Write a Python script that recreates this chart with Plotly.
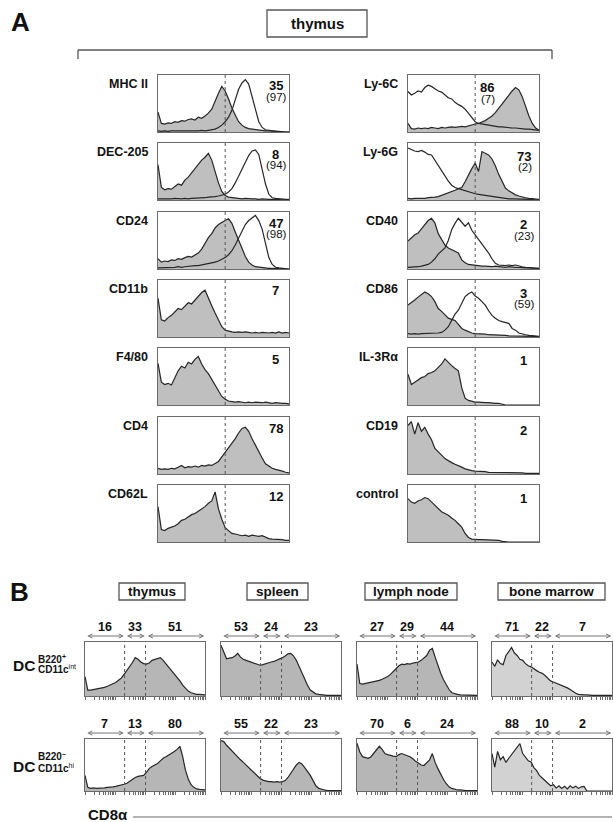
import math
import plotly.graph_objects as go

W, H = 613, 822
FONT = "Liberation Sans, Arial, Helvetica, sans-serif"
TXT = "#111111"
FRAME = "#6a6a6a"
LINE = "#262626"

# ---------------- Panel A (thymus) data: 40 channels per histogram ----------------
A_LEFT_MARKERS = ["MHC II", "DEC-205", "CD24", "CD11b", "F4/80", "CD4", "CD62L"]
A_LEFT_PCT = ["35", "8", "47", "7", "5", "78", "12"]
A_LEFT_PAREN = ["(97)", "(94)", "(98)", "", "", "", ""]
A_RIGHT_MARKERS = ["Ly-6C", "Ly-6G", "CD40", "CD86", "IL-3Rα", "CD19", "control"]
A_RIGHT_PCT = ["86", "73", "2", "3", "1", "2", "1"]
A_RIGHT_PAREN = ["(7)", "(2)", "(23)", "(59)", "", "", ""]
A_GATE = 20

MHCII_FILLED = [35, 15, 14, 16, 15, 18, 17, 20, 19, 22, 23, 21, 26, 24, 28, 33, 40, 55, 68, 80,
                72, 58, 42, 30, 18, 12, 8, 6, 5, 4, 3, 3, 2, 2, 1, 1, 1, 0, 0, 0]
MHCII_OPEN = [2, 1, 2, 1, 2, 2, 1, 2, 2, 1, 2, 2, 2, 3, 2, 3, 4, 5, 8, 12,
              18, 26, 38, 58, 75, 86, 92, 84, 64, 40, 18, 8, 4, 3, 2, 1, 1, 0, 0, 0]
DEC205_FILLED = [62, 22, 18, 20, 19, 24, 28, 26, 35, 40, 48, 55, 62, 70, 75, 82, 70, 50, 30, 15,
                 8, 5, 4, 3, 3, 2, 3, 2, 2, 2, 1, 2, 1, 1, 1, 1, 0, 0, 0, 0]
DEC205_OPEN = [2, 2, 1, 2, 2, 3, 2, 2, 3, 2, 3, 3, 3, 4, 4, 5, 5, 6, 7, 8,
               10, 14, 20, 30, 42, 55, 68, 78, 86, 88, 80, 55, 28, 10, 4, 3, 2, 2, 1, 1]
CD24_FILLED = [18, 12, 14, 13, 16, 15, 18, 17, 20, 22, 21, 25, 28, 35, 45, 55, 62, 72, 78, 82,
               85, 88, 80, 65, 50, 35, 22, 12, 7, 4, 3, 2, 2, 1, 1, 1, 0, 0, 0, 0]
CD24_OPEN = [2, 2, 3, 2, 3, 3, 4, 3, 4, 5, 5, 6, 6, 7, 8, 9, 10, 12, 14, 17,
             20, 25, 32, 42, 55, 68, 78, 85, 90, 94, 85, 70, 45, 20, 8, 3, 2, 1, 1, 0]
CD11B_FILLED = [68, 30, 28, 34, 38, 45, 50, 48, 55, 60, 58, 65, 70, 78, 82, 70, 55, 42, 30, 18,
                12, 10, 9, 8, 9, 8, 9, 8, 7, 8, 7, 8, 7, 7, 8, 7, 9, 7, 8, 7]
F480_FILLED = [73, 40, 36, 38, 35, 48, 60, 68, 65, 75, 72, 80, 85, 72, 62, 55, 45, 35, 25, 15,
               10, 7, 6, 5, 6, 5, 4, 5, 4, 5, 4, 4, 5, 4, 3, 4, 3, 3, 3, 2]
CD4_FILLED = [10, 8, 9, 8, 10, 9, 12, 15, 11, 13, 12, 14, 12, 15, 14, 16, 15, 18, 22, 30,
              38, 45, 52, 62, 72, 80, 82, 75, 62, 50, 38, 28, 18, 14, 10, 8, 7, 5, 3, 2]
CD62L_FILLED = [62, 22, 20, 24, 26, 28, 32, 38, 40, 44, 48, 50, 54, 58, 62, 68, 72, 88, 58, 40,
                25, 20, 15, 14, 12, 11, 12, 10, 12, 11, 10, 11, 8, 6, 5, 5, 4, 4, 3, 3]

LY6C_FILLED = [15, 6, 5, 7, 6, 7, 6, 8, 7, 6, 8, 7, 8, 9, 8, 9, 10, 9, 11, 12,
               14, 15, 17, 20, 24, 28, 34, 42, 50, 58, 64, 72, 78, 74, 62, 45, 28, 15, 7, 3]
LY6C_OPEN = [71, 65, 68, 72, 70, 78, 82, 80, 76, 72, 70, 65, 60, 58, 52, 48, 45, 40, 32, 25,
             18, 15, 14, 12, 11, 10, 10, 9, 9, 8, 8, 7, 7, 6, 6, 5, 5, 4, 3, 3]
LY6G_FILLED = [3, 2, 3, 3, 2, 3, 4, 4, 5, 6, 8, 10, 12, 14, 17, 20, 22, 32, 44, 55,
               65, 50, 85, 82, 79, 72, 60, 45, 32, 21, 16, 12, 9, 7, 5, 4, 3, 2, 1, 1]
LY6G_OPEN = [91, 88, 86, 85, 87, 84, 80, 79, 70, 59, 50, 41, 33, 26, 22, 20, 18, 16, 14, 12,
             11, 10, 9, 8, 7, 6, 5, 4, 3, 3, 2, 2, 2, 1, 1, 1, 1, 1, 0, 0]
CD40_FILLED = [49, 55, 60, 63, 70, 78, 85, 89, 81, 62, 51, 42, 37, 34, 31, 28, 16, 11, 8, 7,
               6, 5, 5, 5, 4, 4, 5, 4, 4, 3, 4, 3, 3, 3, 2, 2, 2, 2, 1, 1]
CD40_OPEN = [3, 3, 4, 4, 5, 6, 8, 12, 18, 26, 32, 37, 50, 69, 80, 89, 82, 75, 81, 68,
             60, 52, 46, 37, 28, 18, 10, 7, 6, 6, 7, 6, 7, 5, 4, 3, 3, 2, 1, 1]
CD86_FILLED = [56, 60, 65, 70, 74, 79, 76, 71, 62, 50, 45, 38, 33, 31, 29, 22, 15, 12, 9, 7,
               6, 6, 5, 5, 4, 4, 4, 3, 3, 3, 2, 2, 2, 2, 2, 1, 1, 1, 1, 0]
CD86_OPEN = [6, 5, 6, 5, 6, 6, 7, 6, 7, 7, 8, 12, 18, 28, 40, 47, 60, 71, 76, 79,
             72, 68, 62, 56, 46, 38, 33, 29, 27, 26, 24, 15, 12, 7, 5, 4, 3, 2, 2, 1]
IL3RA_FILLED = [54, 36, 40, 44, 48, 50, 55, 57, 60, 66, 72, 81, 74, 69, 64, 60, 30, 12, 8, 6,
                5, 5, 4, 4, 4, 3, 3, 3, 1, 0, 0, 0, 0, 0, 0, 0, 0, 0, 0, 0]
CD19_FILLED = [85, 92, 70, 90, 75, 82, 70, 60, 45, 38, 33, 27, 23, 20, 17, 15, 12, 9, 7, 6,
               5, 5, 4, 4, 3, 3, 3, 3, 2, 2, 2, 2, 2, 2, 2, 1, 1, 1, 1, 1]
CONTROL_FILLED = [76, 70, 68, 72, 74, 78, 76, 70, 65, 58, 53, 50, 47, 42, 38, 32, 26, 15, 8, 5,
                  4, 4, 4, 4, 3, 4, 4, 3, 1, 0, 0, 0, 0, 0, 0, 0, 0, 0, 0, 0]

# ---------------- Panel B (CD8alpha) data: 44 channels per histogram ----------------
B_TISSUES = ["thymus", "spleen", "lymph node", "bone marrow"]
B_GATES = [14.2, 21.7]
B_ROW1_PCT = [["16", "33", "51"], ["53", "24", "23"], ["27", "29", "44"], ["71", "22", "7"]]
B_ROW2_PCT = [["7", "13", "80"], ["55", "22", "23"], ["70", "6", "24"], ["88", "10", "2"]]

B1_THYMUS = [36, 11, 11, 12, 13, 14, 14, 16, 18, 20, 22, 25, 29, 33, 40, 47, 54, 62, 71, 68,
             63, 60, 59, 61, 66, 68, 70, 71, 66, 60, 54, 48, 42, 36, 28, 20, 14, 9, 6, 4, 3, 3, 2, 2]
B1_SPLEEN = [94, 80, 69, 70, 71, 74, 79, 72, 68, 66, 64, 62, 60, 58, 57, 58, 60, 61, 63, 64,
             66, 69, 71, 74, 78, 79, 74, 66, 54, 42, 29, 20, 11, 7, 4, 3, 2, 2, 1, 1, 1, 1, 1, 1]
B1_LN = [59, 23, 22, 23, 24, 25, 26, 27, 29, 31, 33, 36, 40, 46, 52, 56, 59, 58, 60, 59,
         61, 62, 63, 66, 70, 75, 85, 88, 72, 55, 42, 30, 20, 12, 6, 4, 3, 2, 2, 1, 1, 1, 1, 1]
B1_BM = [63, 55, 67, 60, 58, 75, 82, 90, 80, 75, 68, 66, 60, 56, 54, 50, 47, 44, 42, 38,
         33, 28, 26, 24, 22, 20, 18, 15, 12, 8, 5, 3, 2, 2, 2, 1, 1, 1, 1, 1, 1, 1, 1, 1]
B2_THYMUS = [30, 7, 5, 6, 5, 5, 6, 6, 7, 7, 8, 9, 10, 11, 13, 15, 19, 23, 26, 28,
             29, 30, 36, 43, 47, 50, 53, 58, 63, 66, 69, 72, 76, 80, 86, 66, 40, 23, 12, 7, 4, 3, 3, 2]
B2_SPLEEN = [97, 95, 88, 82, 78, 72, 66, 60, 55, 50, 45, 40, 34, 29, 24, 21, 19, 18, 18, 17,
             18, 17, 18, 20, 26, 34, 42, 50, 55, 52, 45, 38, 30, 20, 10, 5, 3, 2, 1, 1, 1, 1, 1, 1]
B2_LN = [92, 75, 66, 64, 63, 66, 72, 78, 86, 80, 72, 70, 68, 67, 66, 70, 72, 70, 68, 66,
         62, 57, 54, 50, 49, 55, 60, 72, 55, 43, 32, 22, 14, 8, 5, 3, 2, 2, 1, 1, 1, 1, 1, 1]
B2_BM = [72, 46, 76, 60, 66, 55, 63, 70, 76, 82, 91, 72, 66, 58, 56, 45, 39, 30, 25, 20,
         15, 10, 12, 6, 10, 5, 9, 4, 10, 6, 9, 5, 8, 9, 0, 0, 0, 0, 0, 0, 0, 0, 0, 0]

# ---------------- helpers ----------------
fig = go.Figure()
axes_layout = {}
shapes = []
annots = []
counter = [0]


def new_axes(x0, y0, w, h, nbins, tickvals=None):
    counter[0] += 1
    k = counter[0]
    s = "" if k == 1 else str(k)
    xa, ya = "x" + s, "y" + s
    xd = dict(domain=[x0 / W, min(1.0, (x0 + w) / W)], range=[0, nbins - 1], anchor=ya,
              showgrid=False, zeroline=False, showticklabels=False, showline=True, mirror=True,
              linecolor=FRAME, linewidth=1.4, fixedrange=True)
    if tickvals is not None:
        xd.update(ticks="outside", tickvals=tickvals, ticklen=3, tickwidth=1, tickcolor=FRAME)
    else:
        xd.update(ticks="")
    yd = dict(domain=[1 - (y0 + h) / H, 1 - y0 / H], range=[0, 100], anchor=xa,
              showgrid=False, zeroline=False, showticklabels=False, showline=True, mirror=True,
              linecolor=FRAME, linewidth=1.4, ticks="", fixedrange=True)
    axes_layout["xaxis" + s] = xd
    axes_layout["yaxis" + s] = yd
    return xa, ya


def hist(xa, ya, vals, filled, fillcolor="#bdbdbd"):
    fig.add_trace(go.Scatter(
        x=list(range(len(vals))), y=vals, xaxis=xa, yaxis=ya, mode="lines",
        line=dict(shape="linear", color=LINE, width=1.2),
        fill="tozeroy" if filled else None, fillcolor=fillcolor,
        hoverinfo="skip", showlegend=False))


def gate(xa, ya, g):
    shapes.append(dict(type="line", xref=xa, yref=ya + " domain", x0=g, x1=g, y0=0, y1=1,
                       line=dict(color="#555555", width=1, dash="dot")))


def text(x, y, s, size, bold=True, xanchor="center", color=TXT):
    annots.append(dict(x=x / W, y=1 - y / H, xref="paper", yref="paper",
                       text=("<b>%s</b>" % s) if bold else s, showarrow=False,
                       xanchor=xanchor, yanchor="middle",
                       font=dict(family=FONT, size=size, color=color)))


def pline(x0, y0, x1, y1, color="#555555", width=1.3):
    shapes.append(dict(type="line", xref="paper", yref="paper", x0=x0 / W, x1=x1 / W,
                       y0=1 - y0 / H, y1=1 - y1 / H, line=dict(color=color, width=width)))


def prect(x0, y0, x1, y1, color="#555555", width=1.3):
    shapes.append(dict(type="rect", xref="paper", yref="paper", x0=x0 / W, x1=x1 / W,
                       y0=1 - y1 / H, y1=1 - y0 / H, line=dict(color=color, width=width)))


# ---------------- Panel A ----------------
text(20, 22, "A", 26)
prect(267, 10, 367, 37)
text(317, 23.5, "thymus", 15)
pline(78, 50, 552, 50)
pline(78, 50, 78, 59)
pline(552, 50, 552, 59)

A_COL_X = [158, 408]
A_W, A_H = 131, 57
A_ROW_Y = [75, 143, 212, 280, 348, 417, 485]

left_hists = [(MHCII_FILLED, MHCII_OPEN), (DEC205_FILLED, DEC205_OPEN), (CD24_FILLED, CD24_OPEN),
              (CD11B_FILLED, None), (F480_FILLED, None), (CD4_FILLED, None), (CD62L_FILLED, None)]
right_hists = [(LY6C_FILLED, LY6C_OPEN), (LY6G_FILLED, LY6G_OPEN), (CD40_FILLED, CD40_OPEN),
               (CD86_FILLED, CD86_OPEN), (IL3RA_FILLED, None), (CD19_FILLED, None),
               (CONTROL_FILLED, None)]

for col, (hists, markers, pcts, parens) in enumerate([
        (left_hists, A_LEFT_MARKERS, A_LEFT_PCT, A_LEFT_PAREN),
        (right_hists, A_RIGHT_MARKERS, A_RIGHT_PCT, A_RIGHT_PAREN)]):
    x0 = A_COL_X[col]
    for r, (filled, opened) in enumerate(hists):
        y0 = A_ROW_Y[r]
        xa, ya = new_axes(x0, y0, A_W, A_H, len(filled))
        hist(xa, ya, filled, True, "#bfbfbf")
        if opened is not None:
            hist(xa, ya, opened, False)
        gate(xa, ya, A_GATE)
        text(x0 - 8, y0 + 9, markers[r], 12.5, xanchor="right")
        # percentage text sits near the right edge (beside the gate when the peak is on the right)
        if col == 0:
            num_x = x0 + 0.9 * A_W
        elif r == 0:
            num_x = x0 + 0.605 * A_W
        else:
            num_x = x0 + 0.885 * A_W
        ny = y0 + 11 if col == 0 else y0 + 13
        text(num_x, ny, pcts[r], 13)
        if parens[r]:
            text(num_x + 1, ny + 11, parens[r], 11.5, bold=False)

# ---------------- Panel B ----------------
text(19, 592, "B", 26)
B_COL_X = [85, 221, 357, 492]
B_W = 120
B_ROW_Y = [642, 739]
B_H = [54, 52]
B_NB = 44
B_TICKS = [(d + math.log10(k)) * (B_NB - 1) / 4.0 for d in range(4) for k in range(1, 10)] + [B_NB - 1]

tissue_box = [(119, 185), (247, 308), (365, 457), (498, 605)]
for (bx0, bx1), name in zip(tissue_box, B_TISSUES):
    prect(bx0, 583, bx1, 600)
    text((bx0 + bx1) / 2, 591.5, name, 13.5)

rows = [([B1_THYMUS, B1_SPLEEN, B1_LN, B1_BM], B_ROW1_PCT),
        ([B2_THYMUS, B2_SPLEEN, B2_LN, B2_BM], B_ROW2_PCT)]
for r, (datas, pcts) in enumerate(rows):
    y0, h = B_ROW_Y[r], B_H[r]
    for c, vals in enumerate(datas):
        x0 = B_COL_X[c]
        xa, ya = new_axes(x0, y0, B_W, h, B_NB, B_TICKS)
        fc = "#d2d2d2" if c == 3 else "#b6b6b6"
        hist(xa, ya, vals, True, fc)
        for g in B_GATES:
            gate(xa, ya, g)
        bounds = [0] + B_GATES + [B_NB - 1]
        arrow_dom = (y0 + h - (y0 - 6)) / h
        for i in range(3):
            a, b = bounds[i], bounds[i + 1]
            annots.append(dict(x=b - 0.3, y=arrow_dom, ax=a + 0.3, ay=arrow_dom,
                               xref=xa, yref=ya + " domain", axref=xa, ayref=ya + " domain",
                               text="", showarrow=True, arrowhead=5, startarrowhead=5,
                               arrowside="end+start", arrowsize=0.9, startarrowsize=0.9,
                               arrowwidth=0.9, arrowcolor="#666666", standoff=0, startstandoff=0))
            mid_px = x0 + (a + b) / 2 / (B_NB - 1) * B_W
            text(mid_px, y0 - 15, pcts[c][i], 12.5)

# row labels
text(11, 665, "DC", 15.5, xanchor="left")
text(36, 659, "B220<sup>+</sup>", 10, xanchor="left")
text(36, 669, "CD11c</b><sup>int</sup><b>", 10, xanchor="left")
text(11, 766, "DC", 15.5, xanchor="left")
text(36, 756, "B220<sup>–</sup>", 10, xanchor="left")
text(36, 768, "CD11c</b><sup>hi</sup><b>", 10, xanchor="left")

text(86, 814, "CD8α", 15, xanchor="left")
pline(133, 817, 612, 817, color="#666666", width=1)

fig.update_layout(width=W, height=H, autosize=False, margin=dict(l=0, r=0, t=0, b=0),
                  paper_bgcolor="white", plot_bgcolor="white", showlegend=False,
                  shapes=shapes, annotations=annots, font=dict(family=FONT, color=TXT),
                  **axes_layout)
fig.write_html("out.html", config={"displayModeBar": False, "staticPlot": True},
               post_script="document.body.style.margin='0';document.body.style.padding='0';"
                           "document.documentElement.style.overflow='hidden';")
